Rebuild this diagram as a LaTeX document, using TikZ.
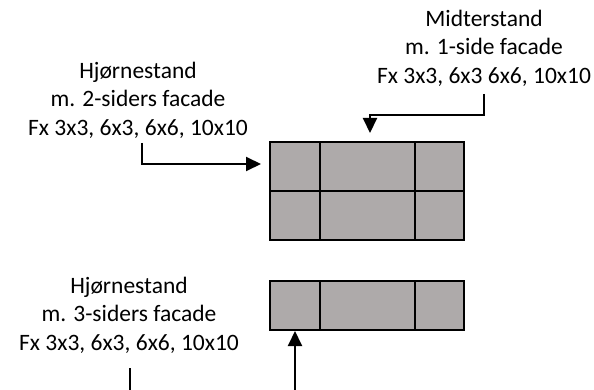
\documentclass[tikz,border=0pt]{standalone}
\usepackage{fontspec}
\setmainfont{Carlito}
\usetikzlibrary{arrows.meta}
\definecolor{cellgray}{RGB}{174,170,170}
\tikzset{
  cell/.style={draw=black, fill=cellgray, line width=2.6pt},
  lbl/.style={align=center, inner sep=0pt, font=\fontsize{23.5}{28.5}\selectfont},
  conn/.style={line width=2pt, -{Triangle[length=15pt,width=14pt]}},
  plain/.style={line width=2pt}
}
\begin{document}
\begin{tikzpicture}[x=1pt,y=-1pt]
\useasboundingbox (0,0) rectangle (594,390);
% top grid
\draw[cell] (270,142) rectangle (320,191);
\draw[cell] (320,142) rectangle (415,191);
\draw[cell] (415,142) rectangle (464,191);
\draw[cell] (270,191) rectangle (320,240);
\draw[cell] (320,191) rectangle (415,240);
\draw[cell] (415,191) rectangle (464,240);
% bottom row
\draw[cell] (270,281) rectangle (320,330);
\draw[cell] (320,281) rectangle (415,330);
\draw[cell] (415,281) rectangle (464,330);
% labels
\node[lbl] (tl) at (138,100) {Hjørnestand\\m. 2-siders facade\\Fx 3x3, 6x3, 6x6, 10x10};
\node[lbl] (tr) at (484,48) {Midterstand\\m. 1-side facade\\Fx 3x3, 6x3 6x6, 10x10};
\node[lbl] (bl) at (129,315) {Hjørnestand\\m. 3-siders facade\\Fx 3x3, 6x3, 6x6, 10x10};
% connector points
\coordinate (tlA) at (142,143);
\coordinate (tlB) at (142,164);
\coordinate (tlC) at (261,164);
\coordinate (trA) at (484,94);
\coordinate (trB) at (484,115);
\coordinate (trC) at (370,115);
\coordinate (trD) at (370,133);
\coordinate (blA) at (130,368);
\coordinate (blB) at (130,390);
\coordinate (bmA) at (295,390);
\coordinate (bmB) at (295,331);
% connectors
\draw[conn] (tlA) -- (tlB) -- (tlC);
\draw[conn] (trA) -- (trB) -- (trC) -- (trD);
\draw[plain] (blA) -- (blB);
\draw[conn] (bmA) -- (bmB);
\end{tikzpicture}
\end{document}
